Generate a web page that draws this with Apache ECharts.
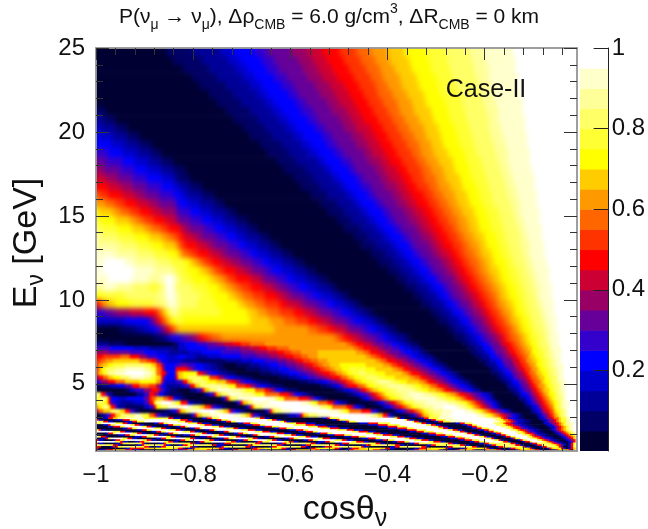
<!DOCTYPE html>
<html><head><meta charset="utf-8">
<style>html,body{margin:0;padding:0;background:#fff}
#wrap{position:relative;width:648px;height:529px;overflow:hidden}
#wrap>div{position:absolute;left:0;top:0;width:648px;height:529px}
#h1{filter:blur(2.6px);clip-path:inset(48px 71px 187px 96px)}
#h2{filter:blur(1.3px);clip-path:inset(342px 71px 111.5px 96px)}
#h3{filter:blur(0.6px);clip-path:inset(417.5px 71px 78px 96px)}
</style>
<script src="https://cdn.jsdelivr.net/npm/echarts@6/dist/echarts.min.js"></script>
</head><body><div id="wrap"><div id="h1"></div><div id="h2"></div><div id="h3"></div><div id="c"></div></div>
<script>
// 20 contour levels, a = 0-0.05 ... t = 0.95-1
const levelColors=['#000033','#000066','#000099','#0000cc','#0000ff','#3300cc','#660099','#990066','#cc0033','#ff0000','#ff3300','#ff6600','#ff9900','#ffcc00','#ffff00','#ffff33','#ffff66','#ffff99','#ffffcc','#ffffff'];
const majorX=[-1,-0.8,-0.6,-0.4,-0.2];
const minorX=[-0.96,-0.92,-0.88,-0.84,-0.76,-0.72,-0.68,-0.64,-0.56,-0.52,-0.48,-0.44,-0.36,-0.32,-0.28,-0.24,-0.16,-0.12,-0.08,-0.04];
const majorY=[5,10,15,20,25];
const minorY=[2,3,4,6,7,8,9,11,12,13,14,16,17,18,19,21,22,23,24];
const colorbarTicks=[0.2,0.4,0.6,0.8,1];
// energy edges of the rows (GeV)
const energyEdges=[25,24.5,24,23.5,23,22.5,22,21.5,21,20.5,20,19.5,19,18.5,18,17.5,17,16.5,16,15.5,15,14.5,14,13.5,13,12.5,12,11.5,11,10.5,10,9.5,9,8.5,8,7.5,
7.25,7,6.75,6.5,6.25,6,5.75,5.5,5.25,5,4.75,4.5,4.25,4,3.75,3.5,3.25,3,
2.9,2.8,2.7,2.6,2.5,2.4,2.3,2.2,2.1,2,1.9,1.8,1.7,1.6,1.5,1.4,1.3,1.2,1.1,1];
const cosStep=0.00496; // cosine width of one column; a run is level letter + end column
const upperRows=[
"a29b40c52d57e66f71g81h88i94j101k108l114m121n128o137p145q155r161s173t200",
"a32b44c55d60e69f74g84h90i96j103k110l116m122n130o138p146q156r162s174t200",
"a36b47c58d63e71f76g86h92i98j105k112l118m124n131o139p147q157r163s174t200",
"a40b50c61d66e74f79g88h94i100j107k114l119m126n133o141p148q158r163s175t200",
"a43b54c64d69e77f82g91h97i103j109k116l121m127n134o142p149q159r164s175t200",
"a47b57c67d71e80f84g93h99i105j111k117l123m129n136o143p151q160r165s176t200",
"a50b60c70d74e83f87g96h101i107j113k119l125m131n137o145p152q161r166s177t200",
"b4a54b64c73d77e85f90g98h104i109j115k121l126m132n139o146p153q162r167s177t200",
"c3b8a57b67c76d80e88f92g101h106i111j117k123l128m134n140o147p154q163r167s178t200",
"d2c8b13a61b70c79d83e91f95g103h108i114j119k125l130m136n142o149p155q163r168s178t200",
"e1d7c13b18a64b73c82d86e94f98g106h111i116j121k127l132m137n143o150p156q164r169s179t200",
"e6d12c18b23a68b77c85d89e96f100g108h113i118j123k129l134m139n144o151p157q165r170s179t200",
"f5e11d17c23b27a71b80c88d92e99f103g111h115i120j125k131l135m140n146o153p158q166r171s180t200",
"g4f11e16d22c27b32a75b83c92d95e102f106g113h118i122j127k133l137m142n148o154p160q167r171s180t200",
"h3g10f16e21d27c32b37a78b87c95d98e105f108g116h120i125j129k135l139m144n149o155p161q168r172s181t200",
"i4h9g15f21e27d32c34b39a82b90c98d101e108f111g118h122i127j131k136l141m145n151o156p162q169r173s182t200",
"j5i10h15g21f27e32d35c39b44a85b93c101d104e110f114g120h125i129j133k138l142m147n152o158p163q170r174s182t200",
"l1k5j11i16h20g26f32e35d38c44b49a89b96c104d107e113f116g123h127i131j136k140l144m149n154o159p164q171r175s183t200",
"m4l8k12j17i22h26g33f34e38d43c49b53a93b100c107d110e116f119g125h129i133j138k142l146m150n155o160p165q172r176s183t200",
"o1n7m10l14k18j23i27h33g34f39e43d48c54b58a96b103c110d113e119f122g128h132i136j140k144l148m152n157o162p167q173r176s184t200",
"p2o8n14m17l20k24j29i33h34g39f44e48d53c58b63a100b106c113d116e121f124g130h134i138j142k146l150m154n158o163p168q174r177s184t200",
"q2p9o15n20m23l27k30j35i36h39g45f49e53d58c63b67a103b110c116d119e124f127g133h136i140j144k148l151m155n159o164p169q175r178s185t200",
"r2q9p16o22n27m30l33k35j37i41h44g50f54e58d62c68b72a107b113c119d122e127f130g135h139i142j146k150l153m157n161o166p170q176r179s185t200",
"r10q17p23o28n33m34l35k37j42i46h49g55f59e62d67c72b76a110b116c122d125e130f132g138h141i144j148k152l155m159n162o167p171q176r180s186t200",
"s8r17q24p30o34n35m36l39k42j47i51h54g60f64e67d72c77b81a114b120c125d128e132f135g140h143i147j150k153l157m160n164o168p172q177r180s186t200",
"s3t12s16r25q31p37o39n41m43l45k48j52i56h60g65f69e72d77c82b86a117b123c128d131e135f138g143h146i149j152k155l159m162n165o170p173q178r181s187t200",
"s2t16s24r32q34p38o43n46m48l50k53j58i62h65g70f73e77d82c87b91a121b126c131d134e138f140g145h148i151j154k157l160m163n167o171p175q179r182s188t200",
"s5t15s22r27s29t32s33r34q36p40o47n50m53l55k58j64i68h70g75f79e82d87c92b96a125b129c134d137e141f143g148h150i153j156k159l162m165n168o172p176q180r183s188t200",
"r3s8r15q22p26q28s30t32s33q40p46o51n54m57l60k64j69i73h76g80f84e88d92c97b100a128b133c138d140e144f146g150h153i155j158k161l164m167n170o174p177q181r184s189t200",
"o2p12q26r29s30t32s33r35q43p48o55n58m61l65k70j75i78h81g86f90e93d98c102b105a132b136c141d143e146f148g152h155i158j160k163l166m168n171o175p178q182r184s189t200",
"j1k2l3m5n8o14p24q28r30s31t32s33r35q42p50o59n62m66l70k76j79i84h87g92f96e99d103c107b110a135b139c144d146e149f151g155h157i160j162k165l167m170n173o176p179q183r185s190t200",
"f4g8h14i20j25k26l27m28n29o30q32s33q35p52o63n67m71l76k82j86i90h93g98f102e105d108c112b115a139b143c147d149e152f154g157h160i162j164k167l169m172n174o177p180q184r186s190t200",
"d12e22f23g24h25i26j27k28l29m30n31o33p36o64n72m78l83k88j92i96h99g104f107e110d114c117b120a142b146c150d152e155f156g160h162i164j166k169l171m173n176o179p181q185r187s191t200",
"a10b16c20d23e25f27g28h29i30j31k32l33m34n74m88l92k96j99i103h105g110f113e116d119c122b125a146b149c153d155e157f159g162h164i166j168k171l173m175n177o180p182q186r188s191t200",
"a24b28c30d31f32e34f37g40h42i43j45k48l52m99l101k103j106i109h112g116f119e121d124c128b130a149b153c156d158e160f162g165h167i169j170k172l175m177n179o181p184q187r188s192t200"
];
const middleRows=[
"c5b12a32b34d37e42f46g50h53i57j60k64l70m104l106k108j111i114h116g120f123e125d128c131b134a152b155c158d160e162f164g167h168i170j172k174l176m178n180o182p184q187r189s192t200",
"f6e15d22c32b34d38e46f54g60h64i68j71k75l80m107l109k111j114i117h119g123f126e128d131c134b136a154b157c160d161e164f165g168h170i171j173k175l177m179n181o183p185q188r189s193t200",
"h5g14f20e25d30c38d44e52f60g66h71i75j78k81l85m92n108m111l113k114j117i120h122g126f128e131d134c136b138a155b158c161d163e165f166g169h171i172j174k176l178m180n181o183p186q188r190s193t200",
"j3k10l14j18h21f25e29d34e37d41c46d52e60f67g72h76i79j82k85l88m92n112m114l116k118j120i123h125g129f131e133d136c139b141a157b160c163d164e166f168g170h172i174j175k177l179m180n182o184p186q188r190s193t200",
"k2l4m7n18l21k23j25g27e29d36c42b54c60d65e70f75g79h82i84j86k89l92m96n116m118l120k121j124i127h129g132f134e136d139c141b143a159b162c164d166e168f169g172h173i175j176k178l179m181n183o185p187q189r191s193t200",
"k1m3n5o7p12q20p23n25k27h28f29e33f35g38f41e44d47c50b53a58b64c68d72e76f79g83h86i88j90k92l94m97n101o112n119m122l123k125j127i130h132g135f137e139d141c144b146a161b163c166d167e169f170g173h174i176j177k179l180m182n183o185p187q189r191s194t200",
"k1m2o4q8r12s20r22q24o25l27j28f29e33j38h40f42e45d48c51b54a62b68c72d76e80f83g86h89i91j93k95l97m99n102o105p112o116n123m125l127k128j130i133h135g138f140e142d144c146b148a163b165c167d169e170f172g174h175i177j178k180l181m183n184o186p188q190r192s194t200",
"k1n3p5r8s12t20s23q25l27j29f30e33k34n36o42j44h46f48e50d52c55b58a68b73c77d80e84f87g90h92i94j97k99l100m102n104o106p109q112p116o120n127m129l130k131j134i136h138g141f143e145d147c149b151a164b167c169d170e172f173g175h177i178j179k180l182m183n185o187p188q190r192s194t200",
"h1j3l5n7o10q14s20r23p25n27j28f29e33j34n36o38q44o47k50j51h53f55e57d59c62b65a76b80c83d86e88f91g94h96i98j101k102l104m105n107o109p112q117p120o124n130m132l134k135j137i139h141g144f146e147d149c151b153a166b168c170d172e173f174g176h178i179j180k181l183m184n186o187p189q191r192s194t200",
"f2h5j8l12n18o25m27i28e29d33f36j38n40q46o50n54k56j58h60f62e64d66c68b72a84b88c91d94e96f98g100h101i103j104k106l107m108n110o112p115q117r122q124p126o129n134m136l137k138j140i142h144g146f148e150d152c154b156a168b170c172d173e175f176g178h179i180j181k182l184m185n186o188p189q191r193s195t200",
"b3c6d9e12g15j18l22k25h27e29c35d37f39j41n43q46r52q55o58k62j64h66f68e70d72c74b78a93b96c98d100e101f102g103h104i105j108k109l111m112n113o115p118q121r128q131p133o135n138m139l141k142j144i146h147g149f151e153d155c156b158a170b171c173d175e176f177g179h180i181j182k183l184m186n187o188p190q192r193s195t200",
"a12b14d16f20h23j26g28e29c31b34a39c42f44j45n47q50s56r60q62o66l70j72h74f75e77d78c80b84a99b101c103d105e106f108g109h110i111j112k113l114m115n117o119p122q125r132q134p136o138n141m143l144k145j147i149h150g152f154e156d157c159b160a171b173c175d176e177f178g180h181i182j183k184l185m186n188o189p190q192r193s195t200",
"q2j4f5c7a17c20f22j24h26e28c30b36a45c47f49j50n52q55s60r64q66o70l76j80h82f83e85d86c88b90a104b106c108d109e110f112g113h114i115j116k117l118m119n120o121p124q127r130s136r139q141p143o145n147m149l150k151j153i155h156g158f160e161d163c164b165a173b175c176d177e179f180g181h182i183j184k185l186m187n188o190p191q192r194s195t200",
"p2r4o5j6e9d13e20g22j23l25n28l30j32e34c36b38a52c53f54j55n56q59s65t71s74q76o78l84j88h90f91e92d93c94b96a109b110c111d112e113f114g115h116i117j118k119l120m121n122o124p126q128r132s141r143q145p147o149n151m152l153k154j156i157h158g160f162e163d164c165b166a175b176c178d179e180f181g182h183i184j185k186l187m188n189o190p191q193r194s195t200",
"o1q3o5j6f8d10c16d20f22j24o25r27t31r33o35j38e39c41b44a58c59f60j61n63q65s72t85s88q90o92l96j98h99f100e101d102c104b105a114b116c117d118e119f120g121h122i123j124k125l126m127n128o129p131q133r137s146r149q151p153o154n155m156l157k158j159i160h161g162f164e165d166c167b168a177b178c179d180e181f182g183h184i185j186k187l188m189n190o191p192q193r194s196t200",
"m1o3r5o6j8f9c12b20d22f24j25o27q30s36t38s40q43n45k47j48f50d52b54a62c63f64j65n66q69s76t90s93q96o98l104j106h107f108e109d110c111b112a118b119c120d121e122f123g124h125i126j127k128l129m130n131o132p134q136r140s144t149s151r153q154p155o156n157m158l159k160j161i162h163g164f165e166d167c168b169a178b180c181d182e183f184g184h185i186j187k188l189m190n190o191p192q193r194s196t200",
"h1l3n6q10n12j14f16b18a28b31d33f34j35n37q39s43t49s51q53n55j56f58d60b62a70c71f72j73n74q77s81t97s101q103o105l110j114f116d117b119a123b124c125d126e127f128g129h130i131j132k133l134m135n136o137p138q140r144s148t153s156r157q158p159o160n161m162l163k164j165i166h167g168f169e170d171c172b173a180b181c182d183e184f185g185h186i187j188k189l190m190n191o192p193q194r195s196t200",
"a2c4f6j8n10q16s19p22l24j25f27c30a39c40f41j42n44q47s51t57s60q62n64j65f67d68b70a78b80d83f85j86n88q92s97t112s115q117n119j121f122d123b124a129b130c131d132f133h134j135l136n138p140q143s147t158s160r161q162p163o164n165m166l167k168j169i170h171g172f173e174d175c176b177a182b183c184d185e185f186g187h188i188j189k190l190m191n192o192p193q194r195s196t200"
];
const lowerRows=[
"a3d5j7n9q12s20p30j32d35a44d46j48p51t66p68j70d72a94d96j97p101t124p125j126d128a134d136j138p142s148t162s165q167o168l169j170h171f173e174d175c177b178a183b184d186f187h189j190l192n193p195r196s197t200",
"j1d3a8d11j14p17s22t28s32p35j38d40a48d50j52p55t71p73j75d77a98d100j101p105t128p129j130d132a137d139j141p145s150t164s166q168o169l171j172h173f174d176c178b180a184b185d187f188h190j191l192n193p195r196s197t200",
"t1p3j5d7a12d15j17p20t34p37j40d42a52d54j56p58t76p78j79d81a102d104j105p108t131p132j134d135a140d142j144p147s152t165s167q169o170l172j173h174f175d177c179b181a185b186d187f188h190j191l192n193p195r196s197t200",
"p2t8p11j13d15a24d26j28p30t38p42j44d47a59d61j64p67t79p83j87d91a109d113j117p122t133p135j137d139a149d151j153p156t165q168o169l170j172h173f175d176c178b180a185b186d188f189h191j192l193n194p195r197s198t200",
"a3d5j6p8t14p16j18d20a28d30j32p35t43p45j48d51a62d65j68p70t82p87j91d95a113d117j121p126t137p139j141d143a152d154j156p158t166q169o170l171j173h174f176d177c179b181a186b187d189f190h191j192l193n194p195r197s198t200",
"a5d7j10p12t19p21j23d25a33d35j37p38t48p51j53d56a68d70j73p76t88p92j96d100a117d121j125p129t140p142j144d146a154d156j158p160t168q171o172l173j175h176f178d179c181b183a187b188d190f191h192j193l194n195p196r197s198t200",
"a11d13j15p17t24p27j29d31a39d41j43p44t54p57j59d62a74d76j79p82t93p97j101d105a121d125j129p132t142p144j146d148a156d158j160p163t170q172o173l174j176h177f179d180c182b184a188b189d190f191h192j193l194n195p196r197s198t200",
"p1j2d4a17d19j21p23t30p33j35d37a45d47j49p50t60p63j66d69a80d83j86p88t100p104j107d111a126d129j133p137t146p148j150d152a159d161j163p165t172q174o175l176j178h179f181d182c184b185a188b189d190f191h192j193l194n195p196r197s198t200",
"t7p10j12d14a23d25j27p29t36p39j41d43a51d53j55p56t66p69j72d75a84d87j90p92t106p109j113d116a130d133j136p140t149p151j153d154a161d163j165p167t174q176o177l178j179h180f182d183c184b186a189b190d191f192h193j194l195n196p197r198s199t200",
"a4d5j7p8t15p17j19d21a28d30j32p34t42p44j46d48a57d59j61p63t72p75j78d81a91d93j96p98t112p115j118d121a135d138j141p144t153p154j156d158a164d166j168p169t175q177o178l179j181h182f183d184c186b187a190b191d192f193h194j195l196n197p198r199t200",
"a9d12j14p16t22p24j26d28a36d39j41p43t49p51j53d55a64d65j67p68t78p81j83d86a96d99j103p106t116p119j123d126a138d141j145p148t156p157j159d160a166d168j170p171t177q179o180l181j182h183f184d185c187b188a191b192d193f194h195j196l197n198p199t200",
"t1p2j4d5a16d19j21p23t29p31j33d35a43d46j48p50t56p58j60d62a70d72j74p76t84p87j89d92a103d106j109p112t122p125j128d131a143d146j149p152t159p161j162d164a169d170j172p174t179q180o181l182j184h185f186d187c188b190a192b193d194f195h196j197l198n199t200",
"a2d4j5p6t11p13j15d17a25d27j29p31t37p39j41d43a51d53j55p57t63p65j67d69a78d80j82p84t92p94j97d100a110d113j116p118t128p130j133d136a147d150j153p155t162p164j165d166a172d173j174p176t180q182o183l184j185h186f188d189c190b191a193b194d195f196h197j198n199t200",
"j1d3a7d8j10p12t19p21j23d25a33d35j37p39t45p47j49d51a59d61j63p65t71p73j75d77a86d88j90p92t99p102j104d107a116d119j121p124t132p135j138d140a151d153j156p159t165p167j168d169a175d176j177p179t183q184o185l186j187h188f189d190c191b192a194b195d196f197h198j199t200",
"t8p10j11d13a16d18j20p22t28p30j32d34a42d43j45p48t54p56j58d60a66d67j69p72t78p80j82d84a92d95j97p99t106p108j111d113a123d125j128p130t138p140j143d145a155d157j159p162t168p169j171d172a177d178j180p181t185q186o187l188j189h190f191d192c193b194a195b196d197f198j199t200",
"j1d3a8d10j11p13q17p19j20d21a26d28j29p31q36p39j41d43a51d53j56p58q64p66j68d69a75d77j79p81q87p89j91d93a101d102j105p107q114p116j118d120a130d132j134p136q144p146j148d150a159d161j163p165q171p172j174d175a180d181j183p184q188o189l190j191h192f193d194c195a196d197j198p199t200",
"q5p7j9d10a17d19j20p22q26p28j29d31a34d36j38p40q46p48j50d53a62d63j65p67q73p75j77d78a85d87j89p91q97p99j101d103a110d112j114p116q122p124j126d128a137d139j141p143q149p151j153d155a162d164j166p168q173p174j176d177a182d183j185p186q190o191l192j193f194d195a196d197j198p199t200",
"j2a6d7j9p11q18p20j22d23a25d27j29p31q37p39j40d42a50d52j53p55q61p62j64d66a72d73j75p77q83p85j87d88a94d95j98p100q107p110j111d113a122d124j126p128q134p135j137d138a145d146j148p149q155p156j158d159a166d167j169p171q176p177j178d180a184d185j187p188q191o192j193f194a196d197j198p199t200",
"j1a12d14j20n25o32n34j36d37a38d40j41n43o49n51j53d55a64d65j67n70o76n77j79d80a88d89j91n92o98n99j101d102a105d106j109n112o118n120j122d124a132d134j137n139o144n145j146d148a151d153j154n156o160n162j163d165a171d172j174n175o179n180j181d182a187d188j189n190o193j194f195a196d197j198n199t200",
"a1d4j7n12j15d18a32d36j38n46j48d50a55d57j59n65j68d71a79d81j83n91j93d96a103d105j107n115j118d121a130d132j134n142j143d144a149d150j151n156j157d158a160d161j162n166j168d169a174d175j176n182j184d185a190d191j192n196j197a198n199t200"
];

const rows=upperRows.concat(middleRows,lowerRows);
const cells=[];
rows.forEach((row,r)=>{
  let start=0;
  for(const m of row.matchAll(/([a-t])(\d+)/g)){
    const end=+m[2];
    if(end>start){cells.push([-1+start*cosStep,-1+end*cosStep,energyEdges[r+1],energyEdges[r],m[1].charCodeAt(0)-97]);start=end;}
  }
});
const barCells=levelColors.map((c,i)=>[0,1,i*0.05,(i+1)*0.05,i]);

// heatmap cells overdraw their neighbours slightly; edge cells run past the frame so the soft edge stays coloured (the layer is clipped to the frame)
function renderCell(params,api){
  const a=api.coord([api.value(0),api.value(3)]);
  const b=api.coord([api.value(1),api.value(2)]);
  let x0=a[0],y0=a[1],x1=b[0]+0.6,y1=b[1]+0.6;
  if(api.value(0)<=-1)x0-=14;
  if(api.value(1)>=-0.01)x1+=14;
  if(api.value(3)>=25)y0-=14;
  if(api.value(2)<=1)y1+=14;
  return {type:'rect',shape:{x:x0,y:y0,width:x1-x0,height:y1-y0},style:{fill:levelColors[api.value(4)]}};
}
function renderBar(params,api){
  const a=api.coord([api.value(0),api.value(3)]);
  const b=api.coord([api.value(1),api.value(2)]);
  return {type:'rect',shape:{x:a[0],y:a[1],width:b[0]-a[0],height:b[1]-a[1]+(api.value(2)>0?0.6:0)},style:{fill:levelColors[api.value(4)]}};
}
const heatOption={
  animation:false,
  grid:{left:96,top:48,width:481,height:403,show:false},
  xAxis:{type:'value',min:-1,max:-0.01,show:false},
  yAxis:{type:'value',min:1,max:25,show:false},
  series:[{type:'custom',data:cells,renderItem:renderCell,encode:{x:[0,1],y:[2,3]},progressive:0,silent:true,clip:false}]
};
['h1','h2','h3'].forEach(id=>echarts.init(document.getElementById(id),null,{renderer:'canvas'}).setOption(heatOption));

const FONT='"Liberation Sans"';
const frame={show:true,onZero:false,lineStyle:{color:'#999',width:1.5}};
const tick=(vals,len)=>({show:true,inside:true,length:len,customValues:vals,lineStyle:{color:'#333',width:1}});
const xBase={type:'value',min:-1,max:-0.01,gridIndex:0,z:10,splitLine:{show:false},axisLine:frame};
const yBase={type:'value',min:1,max:25,gridIndex:0,z:10,splitLine:{show:false},axisLine:frame};
const xFmt=v=>'\u2212'+Math.abs(v).toString();
const option={
  animation:false,backgroundColor:'transparent',
  grid:[{left:96,top:48,width:481,height:403,show:false},{left:580,top:48,width:29,height:403,show:false}],
  xAxis:[
    {...xBase,position:'bottom',axisTick:tick(majorX,12),axisLabel:{show:true,customValues:majorX,formatter:xFmt,fontFamily:FONT,fontSize:24,color:'#111',margin:12}},
    {...xBase,position:'bottom',axisTick:tick(minorX,7),axisLabel:{show:false}},
    {...xBase,position:'top',axisTick:tick(majorX,12),axisLabel:{show:false}},
    {...xBase,position:'top',axisTick:tick(minorX,7),axisLabel:{show:false}},
    {type:'value',gridIndex:1,min:0,max:1,show:false}
  ],
  yAxis:[
    {...yBase,position:'left',axisTick:tick(majorY,13),axisLabel:{show:true,customValues:majorY,fontFamily:FONT,fontSize:24,color:'#111',margin:11}},
    {...yBase,position:'left',axisTick:tick(minorY,7),axisLabel:{show:false}},
    {...yBase,position:'right',axisTick:tick(majorY,13),axisLabel:{show:false}},
    {...yBase,position:'right',axisTick:tick(minorY,7),axisLabel:{show:false}},
    {type:'value',gridIndex:1,min:0,max:1,position:'right',z:10,splitLine:{show:false},
     axisLine:{show:true,onZero:false,lineStyle:{color:'#222',width:1}},
     axisTick:{show:true,inside:true,length:15,customValues:colorbarTicks,lineStyle:{color:'#222',width:1}},
     axisLabel:{show:true,customValues:colorbarTicks,fontFamily:FONT,fontSize:24,color:'#111',margin:3}}
  ],
  series:[
    {type:'custom',xAxisIndex:4,yAxisIndex:4,data:barCells,renderItem:renderBar,encode:{x:[0,1],y:[2,3]},progressive:0,silent:true,z:2}
  ],
  graphic:[
    {type:'text',x:329,y:17,z:20,style:{text:'{n|P(\u03bd}{s|\u03bc}{n| \u2192 \u03bd}{s|\u03bc}{n|), \u0394\u03c1}{s|CMB}{n| = 6.0 g/cm}{u|3}{n|, \u0394R}{s|CMB}{n| = 0 km}',align:'center',verticalAlign:'middle',fill:'#111',rich:{
      n:{fontFamily:FONT,fontSize:21,lineHeight:30,verticalAlign:'middle',fill:'#111'},
      s:{fontFamily:FONT,fontSize:14,lineHeight:30,verticalAlign:'bottom',fill:'#111'},
      u:{fontFamily:FONT,fontSize:14,lineHeight:30,verticalAlign:'top',fill:'#111'}}}},
    {type:'text',x:486,y:90,z:20,style:{text:'Case-II',align:'center',verticalAlign:'middle',fontFamily:FONT,fontSize:25,fill:'#111'}},
    {type:'text',x:27,y:243,rotation:Math.PI/2,z:20,style:{text:'{n|E}{s|\u03bd}{n| [GeV]}',align:'center',verticalAlign:'middle',fill:'#111',rich:{
      n:{fontFamily:FONT,fontSize:34,lineHeight:42,verticalAlign:'middle',fill:'#111'},
      s:{fontFamily:FONT,fontSize:23,lineHeight:42,verticalAlign:'bottom',fill:'#111'}}}},
    {type:'text',x:345,y:510,z:20,style:{text:'{n|cos\u03b8}{s|\u03bd}',align:'center',verticalAlign:'middle',fill:'#111',rich:{
      n:{fontFamily:FONT,fontSize:34,lineHeight:44,verticalAlign:'middle',fill:'#111'},
      s:{fontFamily:FONT,fontSize:25,lineHeight:44,verticalAlign:'bottom',fill:'#111'}}}}
  ]
};
echarts.init(document.getElementById('c'),null,{renderer:'canvas'}).setOption(option);
</script></body></html>
